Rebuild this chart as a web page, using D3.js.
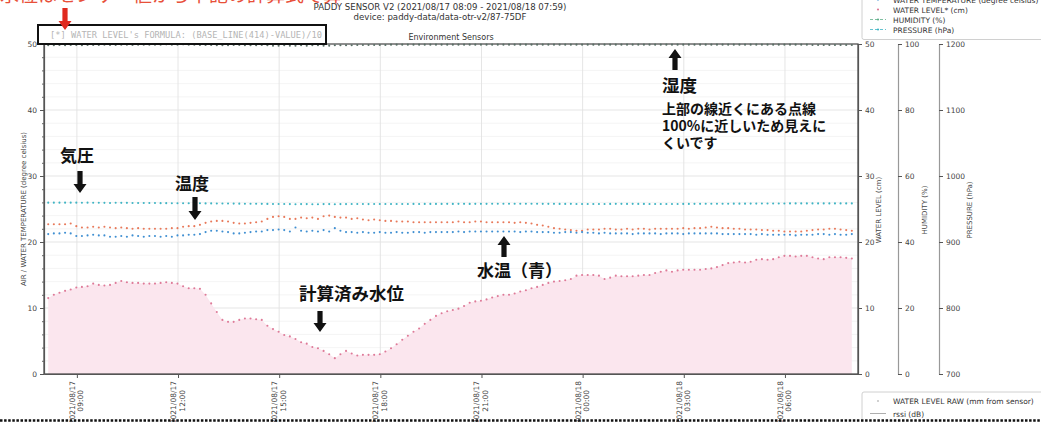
<!DOCTYPE html>
<html>
<head>
<meta charset="utf-8">
<script src="https://cdn.jsdelivr.net/npm/d3@7"></script>
<style>
  body { margin: 0; background: #fff; }
  svg { display: block; font-family: "DejaVu Sans", sans-serif; }
  .jp { font-family: "Noto Sans CJK JP", sans-serif; font-weight: 700; fill: #111; }
</style>
</head>
<body>
<div id="chart-area"></div>
<script>
// readings every 10 minutes, 2021/08/17 08:09 -> 2021/08/18 07:59
const startTime = new Date(2021, 7, 17, 8, 9);
const stepMinutes = 10;

const waterLevel = [
  11.5, 12.0, 12.3, 12.6, 12.8, 13.1, 13.2, 13.3, 13.7, 13.5,
  13.4, 13.5, 13.8, 14.1, 13.9, 13.8, 13.8, 13.7, 13.7, 13.7,
  13.8, 13.9, 13.8, 13.7, 13.3, 13.0, 13.0, 12.9, 12.0, 10.7,
  9.4, 8.2, 7.9, 7.9, 8.2, 8.4, 8.4, 8.3, 8.2, 7.3,
  6.8, 6.4, 5.9, 5.7, 5.3, 4.8, 4.6, 4.1, 3.9, 3.5,
  3.0, 2.4, 3.0, 3.5, 3.1, 2.8, 2.9, 2.9, 2.9, 3.0,
  3.4, 3.9, 4.5, 5.2, 5.8, 6.4, 6.9, 7.6, 8.2, 8.8,
  9.2, 9.5, 9.7, 9.9, 10.3, 10.8, 11.0, 11.1, 11.3, 11.6,
  11.8, 12.0, 12.0, 12.2, 12.5, 12.7, 13.0, 13.2, 13.5, 13.8,
  14.0, 14.1, 14.2, 14.4, 14.9, 15.0, 15.0, 15.0, 14.9, 14.4,
  14.6, 14.9, 14.8, 14.8, 14.8, 14.9, 15.0, 15.0, 15.3, 15.5,
  15.7, 15.5, 15.7, 15.8, 15.8, 15.8, 15.8, 15.9, 16.0, 16.2,
  16.5, 16.8, 16.9, 17.0, 16.9, 17.0, 17.3, 17.4, 17.3, 17.4,
  17.7, 17.9, 17.9, 17.8, 17.9, 17.9, 17.7, 17.5, 17.4, 17.7,
  17.7, 17.7, 17.6, 17.5
];

const airTemp = [
  22.7, 22.7, 22.7, 22.7, 22.8, 22.4, 22.2, 22.2, 22.3, 22.2,
  22.3, 22.2, 22.1, 22.2, 22.1, 22.0, 22.1, 22.0, 22.0, 22.0,
  22.0, 22.0, 22.1, 22.1, 22.3, 22.4, 22.4, 22.6, 22.9, 23.1,
  23.2, 23.2, 23.1, 22.9, 22.8, 22.8, 22.9, 23.0, 23.1, 23.5,
  23.8, 23.9, 23.8, 23.5, 23.5, 23.7, 23.6, 23.7, 23.5, 23.9,
  24.0, 23.8, 23.7, 23.7, 23.5, 23.6, 23.4, 23.3, 23.4, 23.3,
  23.2, 23.2, 23.1, 23.1, 23.1, 23.0, 23.0, 23.0, 23.0, 23.0,
  23.0, 23.0, 23.0, 23.1, 23.0, 23.0, 23.1, 23.1, 23.0, 23.0,
  23.0, 23.0, 23.0, 22.9, 23.0, 22.9, 22.8, 22.6, 22.5, 22.3,
  22.1, 22.0, 21.9, 21.8, 21.7, 21.7, 21.9, 21.9, 21.9, 22.0,
  22.0, 21.9, 21.9, 22.0, 21.9, 22.0, 22.0, 21.9, 22.0, 22.0,
  22.0, 22.0, 22.0, 22.1, 22.0, 22.1, 22.1, 22.2, 22.3, 22.2,
  22.1, 22.1, 22.0, 22.0, 21.9, 21.9, 21.9, 21.8, 21.8, 21.7,
  21.7, 21.6, 21.6, 21.6, 21.6, 21.7, 21.8, 21.9, 21.9, 22.0,
  22.0, 21.9, 21.8, 21.7
];

const waterTemp = [
  21.2, 21.3, 21.3, 21.4, 21.3, 20.9, 20.9, 21.0, 21.1, 21.0,
  21.0, 20.8, 20.8, 20.9, 20.8, 21.0, 20.9, 20.8, 20.9, 20.9,
  20.8, 20.9, 20.8, 21.0, 21.0, 21.1, 21.1, 21.2, 21.5, 21.7,
  21.7, 21.6, 21.5, 21.3, 21.3, 21.4, 21.5, 21.6, 21.6, 21.8,
  21.8, 21.9, 21.8, 21.6, 22.2, 21.7, 21.6, 21.7, 21.6, 21.8,
  21.6, 22.1, 21.7, 21.5, 21.5, 21.4, 21.5, 21.4, 21.4, 21.5,
  21.4, 21.4, 21.5, 21.4, 21.4, 21.5, 21.5, 21.4, 21.5, 21.5,
  21.5, 21.5, 21.5, 21.6, 21.5, 21.6, 21.6, 21.6, 21.6, 21.6,
  21.6, 21.6, 21.6, 21.6, 21.5, 21.6, 21.6, 21.5, 21.5, 21.5,
  21.4, 21.4, 21.5, 21.5, 21.4, 21.5, 21.4, 21.4, 21.3, 21.4,
  21.3, 21.3, 21.3, 21.3, 21.2, 21.3, 21.3, 21.3, 21.3, 21.2,
  21.3, 21.3, 21.3, 21.2, 21.3, 21.3, 21.3, 21.3, 21.3, 21.3,
  21.2, 21.2, 21.2, 21.2, 21.2, 21.2, 21.1, 21.2, 21.1, 21.1,
  21.1, 21.1, 21.1, 21.0, 21.1, 21.1, 21.1, 21.2, 21.2, 21.1,
  21.2, 21.1, 21.1, 21.2
];

const humidity = [
  99.6, 99.6, 99.7, 99.6, 99.7, 99.7, 99.6, 99.7, 99.7, 99.7,
  99.8, 99.7, 99.7, 99.8, 99.8, 99.7, 99.8, 99.8, 99.8, 99.8,
  99.8, 99.9, 99.8, 99.8, 99.9, 99.8, 99.8, 99.7, 99.7, 99.7,
  99.6, 99.6, 99.6, 99.7, 99.7, 99.6, 99.6, 99.6, 99.7, 99.6,
  99.5, 99.5, 99.6, 99.5, 99.5, 99.6, 99.5, 99.6, 99.6, 99.5,
  99.5, 99.6, 99.6, 99.6, 99.6, 99.7, 99.7, 99.7, 99.7, 99.7,
  99.7, 99.8, 99.8, 99.8, 99.8, 99.8, 99.8, 99.8, 99.8, 99.8,
  99.8, 99.8, 99.8, 99.8, 99.8, 99.8, 99.8, 99.8, 99.8, 99.8,
  99.8, 99.8, 99.8, 99.8, 99.8, 99.8, 99.8, 99.8, 99.8, 99.8,
  99.8, 99.8, 99.8, 99.8, 99.8, 99.8, 99.8, 99.8, 99.8, 99.8,
  99.8, 99.8, 99.8, 99.8, 99.8, 99.8, 99.8, 99.8, 99.8, 99.8,
  99.8, 99.8, 99.8, 99.8, 99.8, 99.8, 99.8, 99.8, 99.8, 99.8,
  99.8, 99.8, 99.8, 99.8, 99.8, 99.8, 99.8, 99.8, 99.8, 99.8,
  99.8, 99.8, 99.8, 99.8, 99.8, 99.8, 99.7, 99.7, 99.7, 99.7,
  99.7, 99.7, 99.7, 99.7
];

const pressure = [
  959.6, 959.6, 959.6, 959.6, 959.6, 959.6, 959.5, 959.6, 959.5, 959.4,
  959.3, 959.2, 959.4, 959.3, 959.3, 959.2, 959.1, 959.0, 959.0, 959.0,
  958.9, 958.9, 958.8, 958.8, 958.7, 958.7, 958.6, 958.6, 958.5, 958.5,
  958.4, 958.3, 958.3, 958.2, 958.1, 958.0, 958.0, 957.9, 957.8, 957.7,
  957.5, 957.6, 957.5, 957.4, 957.3, 957.4, 957.4, 957.3, 957.3, 957.4,
  957.4, 957.3, 957.4, 957.4, 957.5, 957.5, 957.5, 957.4, 957.5, 957.5,
  957.5, 957.6, 957.6, 957.6, 957.6, 957.7, 957.6, 957.7, 957.7, 957.7,
  957.7, 957.8, 957.7, 957.8, 957.8, 957.7, 957.8, 957.8, 957.8, 957.9,
  957.9, 957.9, 957.9, 958.0, 957.9, 957.9, 957.9, 958.0, 957.8, 957.8,
  957.8, 957.7, 957.7, 957.8, 957.6, 957.6, 957.5, 957.6, 957.6, 957.6,
  957.7, 957.8, 957.8, 957.7, 957.8, 957.7, 957.7, 957.6, 957.6, 957.5,
  957.6, 957.6, 957.6, 957.7, 957.7, 957.8, 957.8, 957.9, 957.9, 958.0,
  958.0, 958.0, 958.1, 958.1, 958.1, 958.2, 958.2, 958.3, 958.3, 958.3,
  958.4, 958.4, 958.5, 958.5, 958.5, 958.5, 958.5, 958.5, 958.5, 958.5,
  958.5, 958.5, 958.5, 958.5
];

// tick labels
const tempTicks = [0, 10, 20, 30, 40, 50];
const humidityTicks = [0, 20, 40, 60, 80, 100];
const pressureTicks = [700, 800, 900, 1000, 1100, 1200];
const timeTicks = [
  new Date(2021, 7, 17, 9), new Date(2021, 7, 17, 12), new Date(2021, 7, 17, 15),
  new Date(2021, 7, 17, 18), new Date(2021, 7, 17, 21), new Date(2021, 7, 18, 0),
  new Date(2021, 7, 18, 3), new Date(2021, 7, 18, 6)
];
const legendTop = ['AIR TEMPERATURE (degree celsius)', 'WATER TEMPERATURE (degree celsius)',
  'WATER LEVEL* (cm)', 'HUMIDITY (%)', 'PRESSURE (hPa)'];
const legendBottom = ['WATER LEVEL RAW (mm from sensor)', 'rssi (dB)', 'BATTERY (V)'];

const times = waterLevel.map((d, i) => new Date(startTime.getTime() + i * stepMinutes * 60000));

// plot box
const margin = { left: 44, right: 858, top: 44, bottom: 374 };

const svg = d3.select('#chart-area').append('svg')
  .attr('width', 1041)
  .attr('height', 422);

svg.append('rect').attr('width', 1041).attr('height', 422).attr('fill', '#fff');

// scales
const x = d3.scaleTime()
  .domain([new Date(2021, 7, 17, 8, 1, 30), new Date(2021, 7, 18, 8, 10)])
  .range([margin.left, margin.right]);
const y = d3.scaleLinear().domain([0, 50]).range([margin.bottom, margin.top]);
const yHum = d3.scaleLinear().domain([0, 100]).range([margin.bottom, margin.top]);
const yPres = d3.scaleLinear().domain([700, 1200]).range([margin.bottom, margin.top]);

// grid
const minorTicks = d3.range(2, 50, 2).filter(d => d % 10 !== 0);
const grid = svg.append('g');
grid.selectAll('.minor')
  .data(minorTicks)
  .enter().append('line')
  .attr('x1', margin.left).attr('x2', margin.right)
  .attr('y1', d => y(d)).attr('y2', d => y(d))
  .attr('stroke', '#f1f1f1').attr('stroke-width', 0.8);
grid.selectAll('.major')
  .data([10, 20, 30, 40])
  .enter().append('line')
  .attr('x1', margin.left).attr('x2', margin.right)
  .attr('y1', d => y(d)).attr('y2', d => y(d))
  .attr('stroke', '#e2e2e2').attr('stroke-width', 0.9);
grid.selectAll('.vert')
  .data(timeTicks)
  .enter().append('line')
  .attr('x1', d => x(d)).attr('x2', d => x(d))
  .attr('y1', margin.top).attr('y2', margin.bottom)
  .attr('stroke', '#e2e2e2').attr('stroke-width', 0.9);

// water level area + dots
svg.append('path')
  .datum(waterLevel)
  .attr('fill', '#fbe6ee')
  .attr('d', d3.area()
    .x((d, i) => x(times[i]))
    .y0(y(0))
    .y1(d => y(d)));

function dots(values, scale, color, r) {
  svg.append('g').selectAll('circle')
    .data(values)
    .enter().append('circle')
    .attr('cx', (d, i) => x(times[i]))
    .attr('cy', d => scale(d))
    .attr('r', r)
    .attr('fill', color);
}
dots(waterLevel, y, '#de7a98', 1.05);
dots(pressure, yPres, '#3fb4c4', 1.05);
dots(airTemp, y, '#e8795a', 1.05);
dots(waterTemp, y, '#3f8fd2', 1.05);

// spines
svg.append('rect')
  .attr('x', margin.left).attr('y', margin.top)
  .attr('width', margin.right - margin.left).attr('height', margin.bottom - margin.top)
  .attr('fill', 'none').attr('stroke', '#444').attr('stroke-width', 1.2);
dots(humidity, yHum, '#5a6f66', 1.05);

function styleAxis(g) {
  g.selectAll('text').attr('fill', '#444').attr('font-size', '7.5px')
    .attr('font-family', 'DejaVu Sans');
  g.selectAll('line').attr('stroke', '#555');
  g.select('.domain').attr('stroke', '#555').attr('stroke-width', 1.2);
}

// left axis
svg.append('g')
  .attr('transform', 'translate(' + margin.left + ',0)')
  .call(d3.axisLeft(y).tickValues(tempTicks).tickSize(4).tickSizeOuter(0).tickPadding(3))
  .call(styleAxis);
svg.append('g')
  .attr('transform', 'translate(' + margin.left + ',0)')
  .call(d3.axisLeft(y).tickValues(minorTicks).tickSize(2).tickSizeOuter(0).tickFormat(''))
  .call(g => g.select('.domain').remove())
  .call(g => g.selectAll('line').attr('stroke', '#666'));

// right axes
svg.append('g')
  .attr('transform', 'translate(' + margin.right + ',0)')
  .call(d3.axisRight(y).tickValues(tempTicks).tickSize(4).tickSizeOuter(0).tickPadding(3))
  .call(styleAxis);
svg.append('g')
  .attr('transform', 'translate(898,0)')
  .call(d3.axisRight(yHum).tickValues(humidityTicks).tickSize(4).tickSizeOuter(0).tickPadding(3))
  .call(styleAxis)
  .call(g => g.select('.domain').attr('stroke', '#999'));
svg.append('g')
  .attr('transform', 'translate(939,0)')
  .call(d3.axisRight(yPres).tickValues(pressureTicks).tickSize(4).tickSizeOuter(0).tickPadding(3)
    .tickFormat(d3.format('d')))
  .call(styleAxis)
  .call(g => g.select('.domain').attr('stroke', '#999'));

// bottom axis
svg.append('g')
  .attr('transform', 'translate(0,' + margin.bottom + ')')
  .call(d3.axisBottom(x).tickValues(timeTicks).tickSize(4).tickSizeOuter(0).tickFormat(''))
  .call(styleAxis);
const fmtDate = d3.timeFormat('%Y/%m/%d');
const fmtTime = d3.timeFormat('%H:%M');
const tl = svg.append('g').selectAll('g')
  .data(timeTicks)
  .enter().append('g')
  .attr('transform', d => 'translate(' + x(d) + ',381) rotate(-90)');
tl.append('text')
  .attr('text-anchor', 'end').attr('y', -2).attr('font-size', '7.5px').attr('fill', '#444')
  .text(d => fmtDate(d));
tl.append('text')
  .attr('text-anchor', 'end').attr('x', -9).attr('y', 6.5).attr('font-size', '7.5px').attr('fill', '#444')
  .text(d => fmtTime(d));

// axis labels
function vLabel(px, py, txt) {
  svg.append('text')
    .attr('transform', 'translate(' + px + ',' + py + ') rotate(-90)')
    .attr('text-anchor', 'middle').attr('font-size', '7px').attr('fill', '#444')
    .text(txt);
}
vLabel(26, 209, 'AIR / WATER TEMPERATURE (degree celsius)');
vLabel(881, 210, 'WATER LEVEL (cm)');
vLabel(927, 210, 'HUMIDITY (%)');
vLabel(972, 210, 'PRESSURE (hPa)');

// titles
svg.append('text').attr('x', 440).attr('y', 10).attr('text-anchor', 'middle')
  .attr('font-size', '8.6px').attr('fill', '#333')
  .text('PADDY SENSOR V2 (2021/08/17 08:09 - 2021/08/18 07:59)');
svg.append('text').attr('x', 440).attr('y', 20).attr('text-anchor', 'middle')
  .attr('font-size', '8.6px').attr('fill', '#333')
  .text('device: paddy-data/data-otr-v2/87-75DF');
svg.append('text').attr('x', (margin.left + margin.right) / 2).attr('y', 40).attr('text-anchor', 'middle')
  .attr('font-size', '8px').attr('fill', '#333')
  .text('Environment Sensors');

// formula note box
svg.append('rect').attr('x', 38).attr('y', 25).attr('width', 288).attr('height', 19)
  .attr('fill', '#fff').attr('stroke', '#111').attr('stroke-width', 2);
svg.append('text').attr('x', 50).attr('y', 38)
  .attr('font-family', 'DejaVu Sans Mono').attr('font-size', '8.7px').attr('fill', '#b5b5b5')
  .text("[*] WATER LEVEL's FORMULA: (BASE_LINE(414)-VALUE)/10");

// red note, only its lower edge shows at the top of the picture
svg.append('clipPath').attr('id', 'topStrip')
  .append('rect').attr('x', 0).attr('y', 0).attr('width', 340).attr('height', 3.5);
svg.append('text').attr('x', 0).attr('y', 2)
  .attr('clip-path', 'url(#topStrip)')
  .attr('font-family', 'Noto Sans CJK JP').attr('font-size', '19px').attr('fill', '#e8503a')
  .text('水位はセンサー値から下記の計算式で算出しています');

// arrows
function arrow(cx, y1, y2, color) {
  const dir = y2 > y1 ? 1 : -1;
  const head = 9 * dir;
  const sw = 2.6, hw = 6.5;
  const p = [
    [cx - sw, y1], [cx + sw, y1], [cx + sw, y2 - head], [cx + hw, y2 - head],
    [cx, y2], [cx - hw, y2 - head], [cx - sw, y2 - head]
  ];
  svg.append('path').attr('d', d3.line()(p) + 'Z').attr('fill', color || '#111');
}
arrow(65, 8, 30, '#e02a1f');
arrow(80, 171, 193);
arrow(195, 197, 220);
arrow(320, 311, 332);
arrow(504, 257, 236);
arrow(675, 70, 49);

// annotations
function note(px, py, size, txt) {
  svg.append('text').attr('class', 'jp').attr('x', px).attr('y', py)
    .attr('font-size', size + 'px').text(txt);
}
note(60, 162, 17, '気圧');
note(175, 190, 17, '温度');
note(299, 300, 17.5, '計算済み水位');
note(477, 277, 17, '水温（青）');
note(662, 92, 17.5, '湿度');
note(662, 114, 14, '上部の線近くにある点線');
note(662, 131, 14, '100%に近しいため見えに');
note(662, 148, 14, 'くいです');

// top legend
const lg = svg.append('g');
lg.append('rect').attr('x', 862).attr('y', -30).attr('width', 200).attr('height', 69.5)
  .attr('rx', 2).attr('fill', '#fff').attr('stroke', '#d0d0d0');
const legendColors = ['#e8795a', '#3f8fd2', '#de7a98', '#5fae8a', '#3fb4c4'];
legendTop.forEach((t, i) => {
  const ly = -10.5 + i * 10;
  lg.append('text').attr('x', 893).attr('y', ly + 3).attr('font-size', '7.5px').attr('fill', '#333').text(t);
  if (i >= 3) {
    lg.append('line').attr('x1', 870).attr('x2', 886).attr('y1', ly).attr('y2', ly)
      .attr('stroke', legendColors[i]).attr('stroke-width', 0.8).attr('stroke-dasharray', '3,2');
  }
  lg.append('circle').attr('cx', 878).attr('cy', ly).attr('r', 1.1).attr('fill', legendColors[i]);
});

// bottom legend
const lb = svg.append('g');
lb.append('rect').attr('x', 862).attr('y', 392).attr('width', 200).attr('height', 50)
  .attr('rx', 2).attr('fill', '#fff').attr('stroke', '#d0d0d0');
legendBottom.forEach((t, i) => {
  const ly = 401 + i * 12.5;
  lb.append('text').attr('x', 893).attr('y', ly + 3).attr('font-size', '7.5px').attr('fill', '#333').text(t);
  if (i === 0) {
    lb.append('circle').attr('cx', 878).attr('cy', ly).attr('r', 0.9).attr('fill', '#bbb');
  } else {
    lb.append('line').attr('x1', 870).attr('x2', 886).attr('y1', ly).attr('y2', ly)
      .attr('stroke', '#999').attr('stroke-width', 0.8);
  }
});

// dotted separator at the bottom
svg.append('line').attr('x1', 0).attr('x2', 1041).attr('y1', 420.5).attr('y2', 420.5)
  .attr('stroke', '#111').attr('stroke-width', 2.5).attr('stroke-dasharray', '2.5,1.6');
</script>
</body>
</html>
